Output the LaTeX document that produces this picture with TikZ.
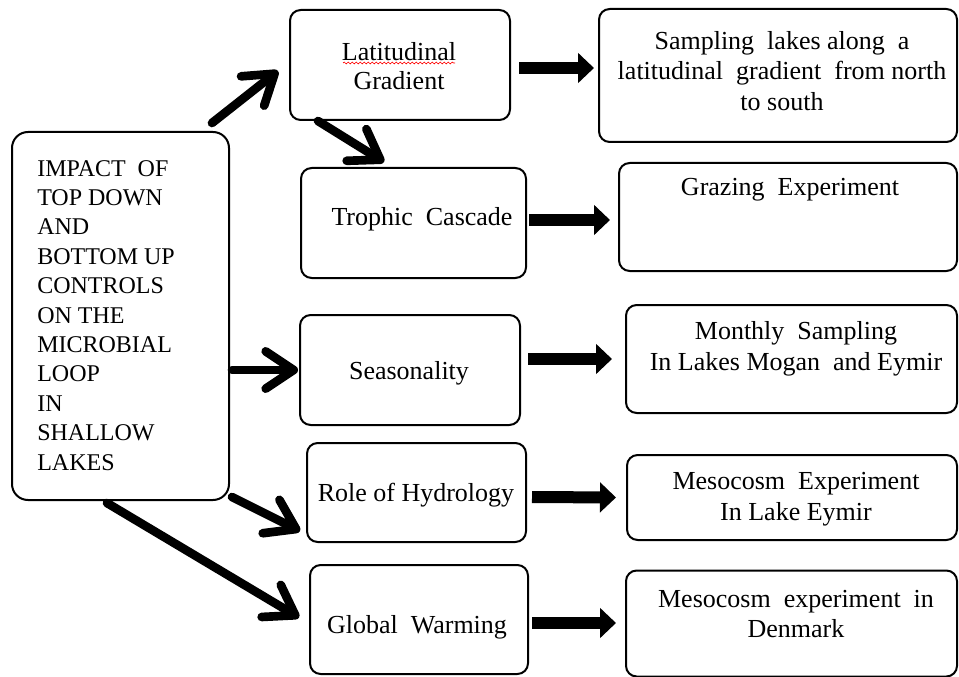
\documentclass[tikz,border=0pt]{standalone}
\usepackage{fontspec}
\setmainfont{Liberation Serif}
\usetikzlibrary{arrows.meta,calc,decorations.pathmorphing}
\begin{document}
\begin{tikzpicture}[x=0.75pt,y=-0.75pt,
  box/.style={draw=black, line width=1.5pt, rounded corners=8pt, inner sep=0pt},
  txt/.style={font=\fontsize{19.5}{23}\selectfont, align=center, inner sep=0pt},
  varrow/.style={line width=6.5pt, line cap=round, -{Straight Barb[length=21pt,width=28pt,line cap=round,line join=round]}},
  blkarrow/.style={line width=9pt, -{Triangle[length=12pt,width=22pt]}}]
\useasboundingbox[fill=white] (0,0) rectangle (959,677);
% boxes
\node[box, rounded corners=12pt, minimum width=162.75pt, minimum height=276pt] (L) at (120.5,316) {};
\node[box, minimum width=165pt, minimum height=82.5pt] (Lat) at (400,65) {};
\node[box, minimum width=168.75pt, minimum height=82.5pt] (Tro) at (413.5,223) {};
\node[box, minimum width=165pt, minimum height=82.5pt] (Sea) at (410,370) {};
\node[box, minimum width=164.25pt, minimum height=74.25pt] (Hyd) at (416.5,492.5) {};
\node[box, minimum width=163.5pt, minimum height=81.75pt] (Glo) at (419,619.5) {};
\node[box, minimum width=268.5pt, minimum height=99.75pt] (Samp) at (778,75.5) {};
\node[box, minimum width=253.5pt, minimum height=81pt] (Graz) at (788,217) {};
\node[box, minimum width=248.25pt, minimum height=81pt] (Mon) at (791.5,359) {};
\node[box, minimum width=247.5pt, minimum height=63.75pt] (MesE) at (792,497.5) {};
\node[box, minimum width=248.25pt, minimum height=79.5pt] (Den) at (791.5,623.5) {};
% texts
\node[anchor=north west, inner sep=0pt, align=left, font=\fontsize{18}{22.05}\selectfont] (tL) at (37,160)
  {IMPACT\ \ OF\\TOP DOWN\\AND\\BOTTOM UP\\CONTROLS\\ON THE\\MICROBIAL\\LOOP\\IN\\SHALLOW\\LAKES};
\node[txt, font=\fontsize{19.5}{21.5}\selectfont] (tLat) at (399,66) {Latitudinal\\Gradient};
\draw[red, line width=0.5pt, decorate, decoration={snake, amplitude=0.7pt, segment length=3pt}] (343,63) -- (455,63);
\node[txt] (tTro) at (422,219) {Trophic\ \ Cascade};
\node[txt] (tSea) at (409,373) {Seasonality};
\node[txt] (tHyd) at (416,495) {Role of Hydrology};
\node[txt] (tGlo) at (417,627) {Global\ \ Warming};
\node[txt] (tSamp) at (782,71) {Sampling\ \ lakes along\ \ a\\latitudinal\ \ gradient\ \ from north\\to south};
\node[txt] (tGraz) at (790,190) {Grazing\ \ Experiment};
\node[txt] (tMon) at (796,349) {Monthly\ \ Sampling\\In Lakes Mogan\ \ and Eymir};
\node[txt] (tMesE) at (796,499) {Mesocosm\ \ Experiment\\In Lake Eymir};
\node[txt] (tDen) at (796,614) {Mesocosm\ \ experiment\ \ in\\Denmark};
% V arrows
\draw[varrow] ($(L.north east)+(-18,-8)$) -- ($(Lat.west)+(-11,6)$);
\draw[varrow] ($(Lat.south west)+(29,0)$) -- ($(Tro.north west)+(84,-5)$);
\draw[varrow] ($(L.east |- Sea.west)+(2,0)$) -- ($(Sea.west)+(-1,0)$);
\draw[varrow] ($(L.south east)+(2,-4)$) -- ($(Hyd.south west)+(-6,-12)$);
\draw[varrow] ($(L.south)+(-13.5,2)$) -- ($(Glo.west)+(-10,-2)$);
% block arrows
\draw[blkarrow] ($(Lat.east)+(8,3)$) -- ($(Samp.west |- Lat.east)+(-4,3)$);
\draw[blkarrow] ($(Tro.east)+(2,-3)$) -- ($(Graz.west)+(-8,3)$);
\draw[blkarrow] ($(Sea.east)+(7,-11)$) -- ($(Mon.west)+(-13,0)$);
\draw[blkarrow] ($(Hyd.east)+(5,4.5)$) -- ($(MesE.west)+(-10,0)$);
\draw[blkarrow] ($(Glo.east)+(3,3.5)$) -- ($(Den.west)+(-9,-0.5)$);
\end{tikzpicture}
\end{document}
